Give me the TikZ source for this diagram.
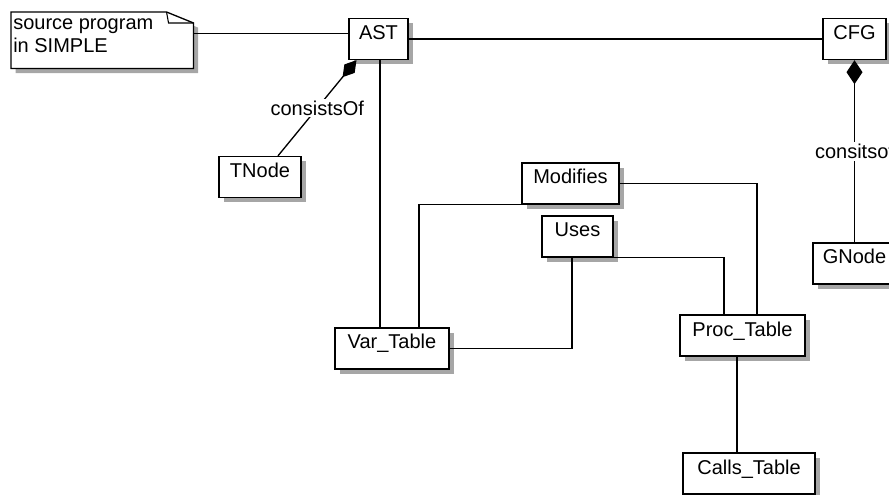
\documentclass[tikz,border=0pt]{standalone}
\usepackage{fontspec}
\setmainfont{Liberation Sans}
\usetikzlibrary{calc,shadows,arrows.meta}
\newlength{\px}
\setlength{\px}{0.75pt}
\tikzset{
  diagfont/.style={font=\fontsize{15}{17.25}\selectfont},
  box/.style={draw, fill=white, line width=1pt, diagfont, inner sep=0pt,
    text height=15.75pt, text depth=15pt,
    drop shadow={shadow xshift=3.5pt, shadow yshift=-3.5pt, fill=black!35, opacity=1}},
  link/.style={line width=1pt},
  lbl/.style={fill=white, diagfont, inner sep=1.5pt},
}
\begin{document}
\begin{tikzpicture}[x=\px, y=-\px]
  \useasboundingbox (0,0) rectangle (889,495);
  \clip (0,0) rectangle (889,495);
  % note
  \node[inner sep=0pt, minimum width=182\px, minimum height=56\px, anchor=north west] (src) at (11,12) {};
  \draw[line width=1pt, fill=white,
    drop shadow={shadow xshift=3.5pt, shadow yshift=-3.5pt, fill=black!35, opacity=1}]
    (src.north west) -- ($(src.north east)+(-27,0)$) -- ($(src.north east)+(0,11)$)
    -- (src.south east) -- (src.south west) -- cycle;
  \draw[line width=0.8pt] ($(src.north east)+(-27,0)$) -- ($(src.north east)+(-25,11)$) -- ($(src.north east)+(0,11)$);
  \node[diagfont, anchor=base west, align=left, inner sep=0pt] (srctxt) at (13,53) {source program\\in SIMPLE};
  % classes
  \node[box, minimum width=59\px] (ast) at (378.5,39) {AST};
  \node[box, minimum width=63\px] (cfg) at (854.5,39) {CFG};
  \node[box, minimum width=82\px] (tnode) at (260,177) {TNode};
  \node[box, minimum width=83\px] (gnode) at (854.5,263.5) {GNode};
  \node[box, minimum width=97\px] (mod) at (570.5,183.5) {Modifies};
  \node[box, minimum width=71\px] (uses) at (577.5,236.5) {Uses};
  \node[box, minimum width=114\px] (var) at (392,348.5) {Var\_Table};
  \node[box, minimum width=125\px] (proc) at (742.5,335.5) {Proc\_Table};
  \node[box, minimum width=132\px] (calls) at (749,473.5) {Calls\_Table};
  % associations
  \draw[link] ($(src.east)+(0,-7)$) coordinate (s1) -- (s1 -| ast.west);
  \draw[link] (ast.east) -- (cfg.west);
  \draw[link] ($(ast.south)+(1.5,0)$) coordinate (a1) -- (a1 |- var.north);
  \draw[link] (mod.south west) -| ($(var.north)+(27,0)$);
  \draw[link] (mod.east) -| ($(proc.north)+(14.5,0)$);
  \draw[link] ($(uses.south)+(-5.5,0)$) |- (var.east);
  \draw[link] (uses.south east) -| ($(proc.north)+(-18.5,0)$);
  \draw[link] ($(proc.south)+(-5.5,0)$) coordinate (p1) -- (p1 |- calls.north);
  % compositions
  \draw[link, -{Diamond[length=16.5pt, width=10pt]}] ($(tnode.north)+(18,0)$) -- ($(ast.south)+(-22,0)$)
    node[lbl, midway] {consistsOf};
  \draw[link, -{Diamond[length=18pt, width=12pt]}] (gnode.north) -- (cfg.south)
    node[lbl, midway] {consitsof};
\end{tikzpicture}
\end{document}
